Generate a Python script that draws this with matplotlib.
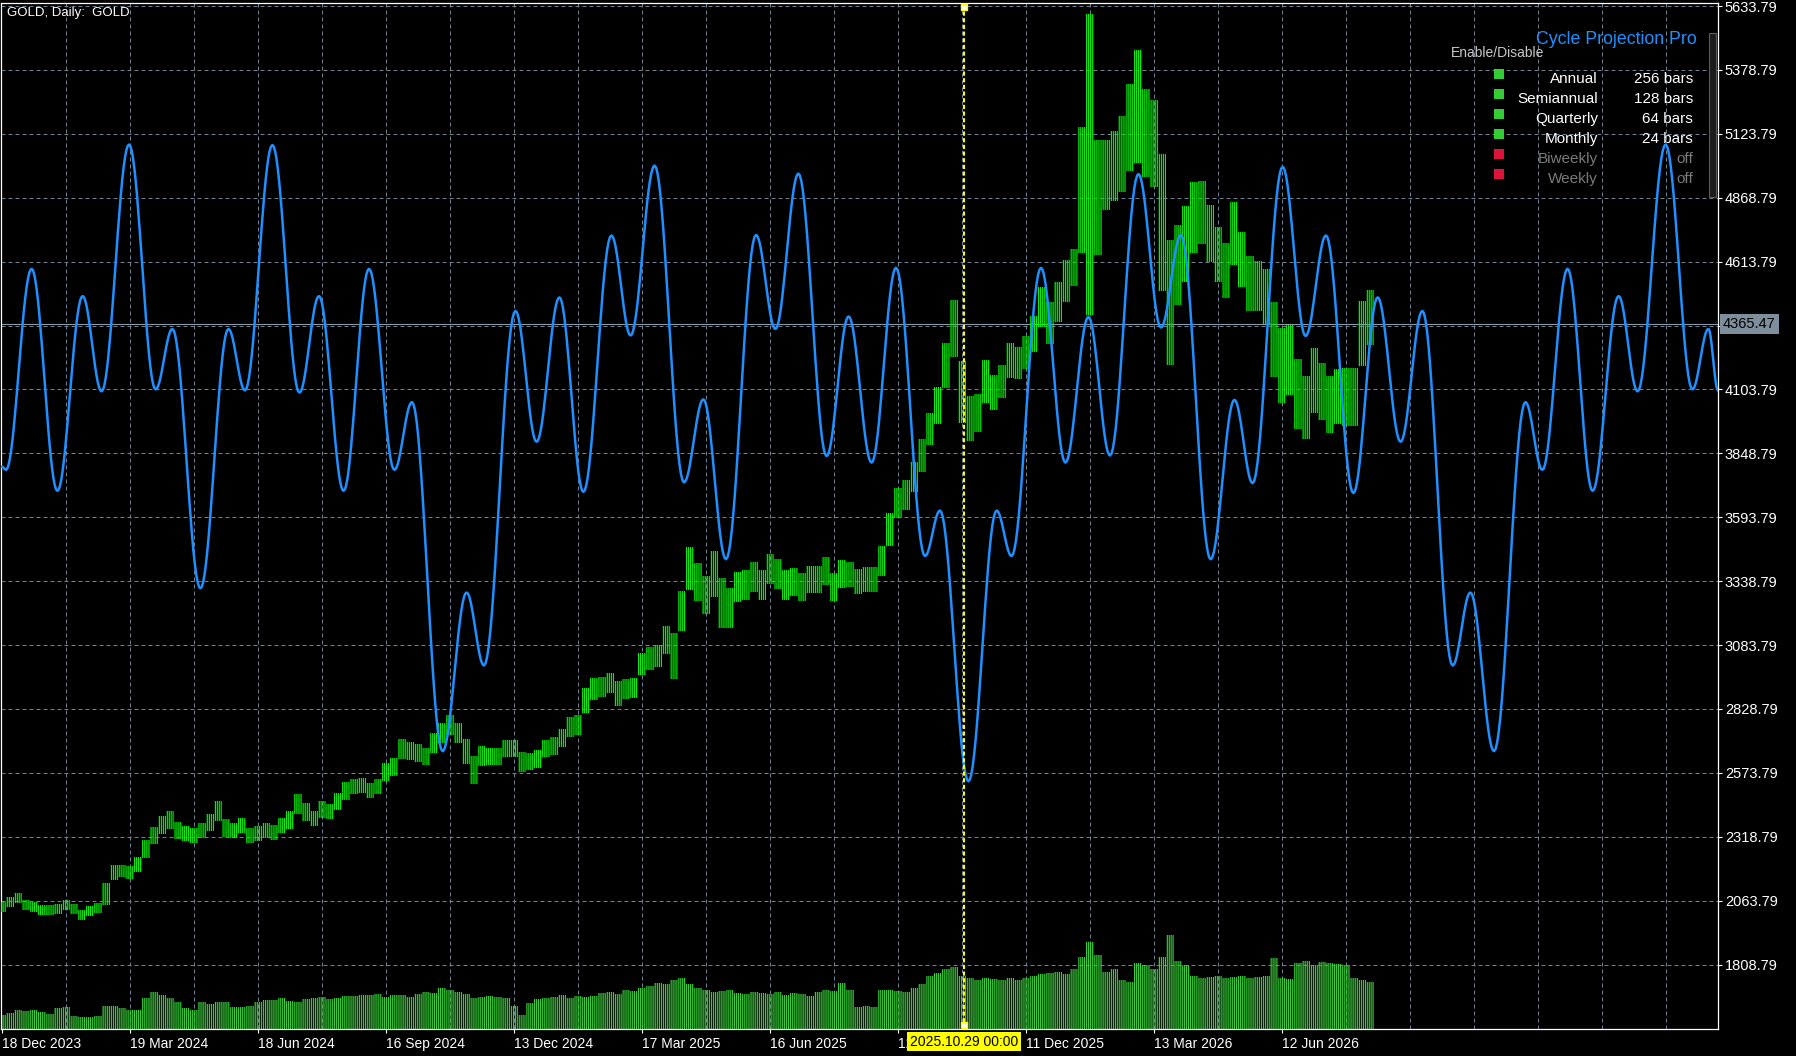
import numpy as np
import matplotlib
matplotlib.use("Agg")
import matplotlib.pyplot as plt
from matplotlib.patches import Rectangle
from matplotlib.transforms import blended_transform_factory, Affine2D

plt.rcParams['font.family'] = ['Liberation Sans', 'DejaVu Sans']
plt.rcParams['hatch.linewidth'] = 0.9

# ---- data ----
# one sample every 4th daily bar, bar 0 = 18 Dec 2023
bar_step = 4
price_mid = [
    2037, 2058, 2073, 2048, 2037, 2027, 2027, 2031,
    2048, 2031, 2006, 2023, 2033, 2090, 2175, 2181,
    2175, 2207, 2270, 2323, 2365, 2386, 2344, 2333,
    2323, 2344, 2375, 2422, 2354, 2344, 2365, 2323,
    2333, 2344, 2337, 2365, 2386, 2449, 2418, 2392,
    2428, 2418, 2460, 2502, 2519, 2523, 2502, 2519,
    2576, 2597, 2670, 2660, 2653, 2638, 2692, 2734,
    2766, 2734, 2660, 2586, 2639, 2639, 2639, 2671,
    2671, 2618, 2618, 2628, 2671, 2681, 2713, 2755,
    2766, 2861, 2909, 2918, 2934, 2892, 2909, 2913,
    3008, 3029, 3040, 3103, 3040, 3220, 3388, 3336,
    3283, 3367, 3251, 3230, 3315, 3325, 3357, 3325,
    3388, 3367, 3325, 3336, 3315, 3346, 3346, 3378,
    3315, 3367, 3367, 3336, 3346, 3344, 3418, 3544,
    3650, 3682, 3755, 3840, 3945, 4040, 4199, 4347,
    4093, 3988, 4009, 4135, 4093, 4135, 4220, 4209,
    4251, 4325, 4431, 4368, 4452, 4536, 4590, 4900,
    5000, 4870, 4959, 4995, 5043, 5149, 5233, 5128,
    5085, 4770, 4450, 4600, 4684, 4790, 4811, 4726,
    4642, 4579, 4726, 4621, 4526, 4515, 4473, 4304,
    4199, 4220, 4085, 4032, 4138, 4096, 4043, 4074,
    4074, 4074, 4328, 4391,
]
# high-low span of each 4-bar group
price_rng = [
    40, 40, 40, 40, 40, 40, 40, 40,
    40, 40, 40, 40, 40, 90, 60, 50,
    50, 60, 70, 70, 70, 70, 70, 60,
    60, 60, 70, 80, 70, 60, 60, 60,
    60, 60, 60, 60, 70, 80, 70, 60,
    70, 60, 70, 70, 60, 60, 60, 60,
    70, 70, 80, 70, 70, 70, 80, 80,
    80, 80, 100, 110, 80, 70, 70, 70,
    70, 80, 70, 70, 70, 70, 70, 80,
    80, 100, 90, 80, 80, 100, 80, 80,
    90, 90, 90, 110, 180, 160, 170, 150,
    150, 180, 200, 160, 120, 120, 120, 120,
    120, 120, 120, 110, 110, 110, 110, 110,
    110, 110, 100, 100, 100, 100, 120, 130,
    120, 120, 120, 130, 130, 150, 180, 230,
    250, 180, 150, 170, 140, 130, 140, 130,
    130, 140, 160, 170, 160, 170, 150, 500,
    1200, 460, 280, 280, 300, 350, 450, 350,
    350, 550, 500, 320, 300, 280, 250, 230,
    220, 220, 250, 220, 220, 200, 220, 300,
    300, 280, 280, 250, 260, 230, 230, 220,
    230, 230, 260, 220,
]
# tick volume (thousands)
volume_k = [
    14, 16, 19, 18, 19, 17, 15, 20,
    21, 13, 12, 12, 13, 22, 22, 20,
    19, 19, 30, 36, 33, 30, 26, 20,
    19, 26, 24, 26, 26, 21, 21, 22,
    26, 28, 28, 30, 27, 26, 29, 30,
    31, 29, 30, 32, 32, 33, 33, 34,
    31, 33, 33, 31, 34, 36, 35, 40,
    38, 36, 34, 30, 31, 32, 31, 30,
    22, 14, 25, 29, 30, 31, 33, 30,
    32, 31, 32, 35, 36, 34, 38, 37,
    40, 42, 45, 44, 48, 50, 44, 40,
    38, 36, 37, 38, 35, 34, 36, 35,
    34, 36, 33, 35, 34, 32, 36, 38,
    37, 45, 38, 21, 22, 21, 38, 38,
    37, 36, 40, 44, 52, 55, 58, 60,
    52, 50, 48, 50, 49, 48, 50, 48,
    50, 52, 54, 55, 56, 54, 58, 70,
    85, 72, 56, 58, 48, 46, 64, 62,
    58, 70, 92, 66, 62, 52, 50, 51,
    52, 50, 51, 52, 50, 51, 52, 69,
    50, 49, 64, 66, 62, 65, 64, 63,
    62, 50, 48, 46,
]

# turning points of the cycle projection (bar, price)
cycle_x = [0, 2, 14.8, 27.7, 40.3, 49.8, 63.5, 76.8, 85.2, 99.2, 113.2, 121.5,
           135.2, 148.7, 158.5, 170.8, 183.5, 196.2, 205, 220.3, 232.3, 241,
           256.7, 267.3, 278.7, 290.7, 304.7, 314.3, 326.3, 341, 350.7, 362,
           377, 386.7, 398.2, 412.3, 423.3, 434.8, 447, 461.5, 469, 483.2,
           497.3, 504.8, 519.5, 531.7, 543.2, 554, 568.2, 579.5, 589.5, 604.3,
           616.2, 625.3, 640.3, 651.8, 662, 675.7, 687.8, 699.3, 710.2, 725.3,
           734.2, 746, 761.7, 770.2, 782.8, 795.3, 808.3, 817.8, 831.8, 845.2,
           853.2, 858]
cycle_y = [3795, 3783, 4585, 3699, 4476, 4096, 5081, 4104, 4345, 3310, 4345, 4100,
           5079, 4091, 4476, 3699, 4585, 3783, 4053, 2660, 3293, 3002,
           4417, 3895, 4471, 3695, 4718, 4319, 4997, 3733, 4064, 3426,
           4720, 4345, 4965, 3838, 4395, 3812, 4589, 3439, 3620, 2540,
           3620, 3439, 4589, 3812, 4393, 3840, 4963, 4351, 4720, 3426,
           4062, 3730, 4992, 4317, 4718, 3690, 4471, 3895, 4417, 3002,
           3293, 2660, 4053, 3783, 4585, 3699, 4476, 4096, 5081, 4104,
           4345, 4100]

date_bars = [0, 64, 128, 192, 256, 320, 384, 448, 512, 576, 640]
date_labels = ["18 Dec 2023", "19 Mar 2024", "18 Jun 2024", "16 Sep 2024",
               "13 Dec 2024", "17 Mar 2025", "16 Jun 2025", "12 Sep 2025",
               "11 Dec 2025", "13 Mar 2026", "12 Jun 2026"]
price_levels = [5633.79, 5378.79, 5123.79, 4868.79, 4613.79, 4358.79, 4103.79,
                3848.79, 3593.79, 3338.79, 3083.79, 2828.79, 2573.79, 2318.79,
                2063.79, 1808.79]
last_price = 4365.47
marker_bar = 481
marker_text = "2025.10.29 00:00"

cycle_names = ["Annual", "Semiannual", "Quarterly", "Monthly", "Biweekly", "Weekly"]
cycle_lengths = ["256 bars", "128 bars", "64 bars", "24 bars", "off", "off"]
cycle_on = [True, True, True, True, False, False]

# ---- style ----
W, H = 1796, 1056
GRID = '#6f8090'
GREEN = '#00f000'
VOLGREEN = '#36cc36'
BLUE = '#1e90ff'


def fx(px):
    return px / W


def fy(py):
    return 1 - py / H


def turning_path(xs, ys, n=20):
    # smooth half-wave between consecutive turning points
    px, py = [], []
    for i in range(len(xs) - 1):
        t = np.linspace(0, 1, n, endpoint=False)
        px.append(xs[i] + (xs[i + 1] - xs[i]) * t)
        py.append(ys[i] + (ys[i + 1] - ys[i]) * (1 - np.cos(np.pi * t)) / 2)
    px.append([xs[-1]])
    py.append([ys[-1]])
    return np.concatenate(px), np.concatenate(py)


fig = plt.figure(figsize=(W / 100, H / 100), dpi=100, facecolor='black')
ax = fig.add_axes([fx(1), fy(1029), (1718 - 1) / W, (1029 - 2.7) / H])
ax.set_facecolor('black')

bars = np.arange(len(price_mid)) * bar_step
mid = np.array(price_mid, dtype=float)
rng = np.array(price_rng, dtype=float)

# grid
for b in range(32, 858, 32):
    ax.axvline(b, color=GRID, lw=0.72, ls=(0, (4, 3)), zorder=0.5)
for p in price_levels:
    ax.axhline(p, color=GRID, lw=0.72, ls=(0, (4, 3)), zorder=0.5)

# volume in the bottom strip (1000 k == full axes height), thin daily bars via hatch
vol_trans = blended_transform_factory(ax.transData,
                                      Affine2D().scale(1, 1 / 1000) + ax.transAxes)
ax.bar(bars, volume_k, width=bar_step, bottom=0, facecolor='none',
       edgecolor=VOLGREEN, hatch='|' * 8, lw=0, transform=vol_trans, zorder=1)

# price bars, drawn as dense thin daily lines
ax.bar(bars, rng, width=bar_step, bottom=mid - rng / 2, facecolor='none',
       edgecolor=GREEN, hatch='|' * 8, lw=0, zorder=3)

# current price line
ax.axhline(last_price, color='#8c9aa8', lw=0.8, zorder=2)

# cycle projection
cx, cy = turning_path(cycle_x, cycle_y)
ax.plot(cx, cy, color=BLUE, lw=1.8, zorder=4, solid_joinstyle='round')

# vertical marker line
ax.axvline(marker_bar, color='#ffff00', lw=1.5, ls=(0, (2, 1.2)), zorder=5)
mtrans = blended_transform_factory(ax.transData, ax.transAxes)
ax.plot([marker_bar, marker_bar], [0.996, 0.004], ls='none', marker='s', ms=4.5,
        mfc='white', mec='#ffff00', mew=1, transform=mtrans, clip_on=False, zorder=6)

ax.set_xlim(-0.5, 858)
ax.set_ylim(1551.4, 5647.0)

for s in ax.spines.values():
    s.set_color('white')
    s.set_linewidth(0.9)

ax.yaxis.tick_right()
ax.set_yticks(price_levels)
ax.set_yticklabels(['' if abs(p - 4358.79) < 0.01 else f"{p:.2f}" for p in price_levels])
ax.tick_params(axis='y', colors='white', length=3, width=0.8, pad=2, labelsize=10.5)
ax.set_xticks(date_bars)
ax.set_xticklabels(date_labels)
for lab in ax.get_xticklabels():
    lab.set_horizontalalignment('left')
ax.tick_params(axis='x', colors='white', length=3, width=0.8, pad=3, labelsize=10)

# current price tag
ytrans = blended_transform_factory(ax.transAxes, ax.transData)
ax.text(1.0 + 5 / 1717, last_price, f"{last_price:.2f}", transform=ytrans,
        ha='left', va='center', fontsize=10.5, color='black', clip_on=False, zorder=10,
        bbox=dict(boxstyle='square,pad=0.22', facecolor='#7f8e9c', edgecolor='none'))

# date tag of marker line (covers the tick label beneath it, as in the terminal)
ax.text(marker_bar, -0.0125, marker_text, transform=mtrans, ha='center', va='center',
        fontsize=10, color='black', clip_on=False, zorder=10,
        bbox=dict(boxstyle='square,pad=0.18', facecolor='#ffff00', edgecolor='none'))

# header
fig.text(fx(7), fy(13), "GOLD, Daily:  GOLD", color='white', fontsize=9.5,
         ha='left', va='center')

# cycle panel
fig.text(fx(1697), fy(40), "Cycle Projection Pro", color=BLUE, fontsize=12.8,
         ha='right', va='center')
fig.text(fx(1451), fy(53), "Enable/Disable", color='#c8c8c8', fontsize=10,
         ha='left', va='center')
for i, (name, length, on) in enumerate(zip(cycle_names, cycle_lengths, cycle_on)):
    yrow = 79 + 20 * i
    fig.add_artist(Rectangle((fx(1494), fy(79 + 20 * i)), 10 / W, 10 / H,
                             transform=fig.transFigure,
                             facecolor='#32cd32' if on else '#dc143c', edgecolor='none'))
    col = 'white' if on else '#7a7a7a'
    fig.text(fx(1598), fy(yrow), name, color=col, fontsize=11, ha='right', va='center')
    fig.text(fx(1693), fy(yrow), length, color=col, fontsize=11, ha='right', va='center')
fig.add_artist(Rectangle((fx(1709), fy(197)), 7 / W, 164 / H, transform=fig.transFigure,
                         facecolor='#1c1c1c', edgecolor='#5a5a5a', lw=0.8))

fig.savefig('out.png', dpi=100, facecolor='black')
